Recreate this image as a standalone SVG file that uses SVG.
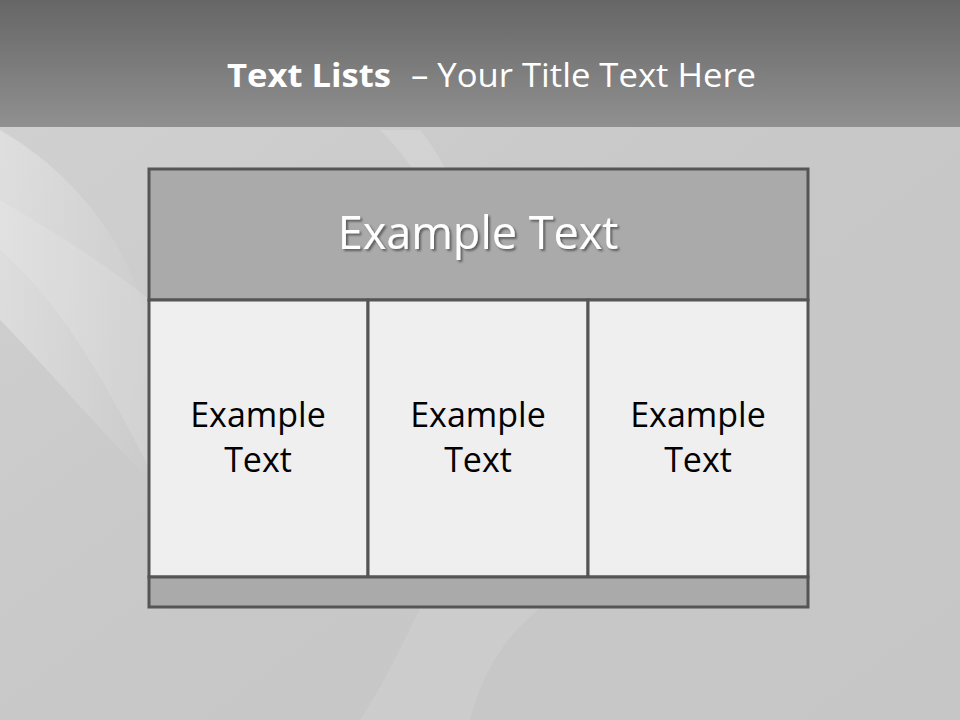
<svg xmlns="http://www.w3.org/2000/svg" width="960" height="720" viewBox="0 0 960 720">
<defs>
<linearGradient id="topband" x1="0" y1="0" x2="0" y2="1">
<stop offset="0" stop-color="#666666"/>
<stop offset="1" stop-color="#909090"/>
</linearGradient>
<linearGradient id="bg" x1="0" y1="0" x2="1" y2="1">
<stop offset="0" stop-color="#d2d2d2"/>
<stop offset="0.5" stop-color="#c8c8c8"/>
<stop offset="1" stop-color="#c6c6c6"/>
</linearGradient>
<linearGradient id="swoosh" x1="0" y1="0" x2="1" y2="0">
<stop offset="0" stop-color="#ffffff" stop-opacity="0.3"/>
<stop offset="1" stop-color="#ffffff" stop-opacity="0"/>
</linearGradient>
<filter id="shadow" x="-10%" y="-20%" width="130%" height="150%">
<feDropShadow dx="2" dy="2" stdDeviation="1.2" flood-color="#000" flood-opacity="0.45"/>
</filter>
</defs>
<style>
.cell{stroke:#555555;stroke-width:3}
.dark{fill:#aaaaaa}
.light{fill:#efefef}
.title{font-family:"Open Sans","Liberation Sans",sans-serif;font-size:32px;fill:#ffffff}
.head{font-family:"Open Sans","Liberation Sans",sans-serif;font-size:45px;fill:#ffffff}
.body{font-family:"Open Sans","Liberation Sans",sans-serif;font-size:34px;fill:#000000;text-anchor:middle}
</style>
<rect x="0" y="0" width="960" height="720" fill="url(#bg)"/>
<path d="M0 130 C120 200 180 330 150 470 L150 480 C90 420 40 360 0 320 Z" fill="url(#swoosh)"/>
<path d="M0 250 C60 300 110 390 150 470 L150 300 C100 260 50 230 0 200 Z" fill="#ffffff" fill-opacity="0.12"/>
<path d="M380 130 C430 180 450 230 440 300 L470 300 C470 230 460 180 420 130 Z" fill="#ffffff" fill-opacity="0.15"/>
<path d="M420 608 C400 650 380 690 360 720 L470 720 C480 680 500 640 540 608 Z" fill="#ffffff" fill-opacity="0.1"/>
<rect x="0" y="0" width="960" height="127" fill="url(#topband)"/>
<g id="title">
<text x="227" y="87" class="title" font-weight="bold" textLength="164" lengthAdjust="spacingAndGlyphs">Text Lists</text>
<text x="411" y="87" class="title" textLength="345" lengthAdjust="spacingAndGlyphs">– Your Title Text Here</text>
</g>
<g id="header">
<rect x="149" y="169" width="659" height="131" class="cell dark"/>
<text x="478" y="249" text-anchor="middle" class="head" filter="url(#shadow)">Example Text</text>
</g>
<g id="col1">
<rect x="149" y="300" width="219" height="277" class="cell light"/>
<text x="258" y="427" class="body">Example</text>
<text x="258" y="472" class="body">Text</text>
</g>
<g id="col2">
<rect x="368" y="300" width="220" height="277" class="cell light"/>
<text x="478" y="427" class="body">Example</text>
<text x="478" y="472" class="body">Text</text>
</g>
<g id="col3">
<rect x="588" y="300" width="220" height="277" class="cell light"/>
<text x="698" y="427" class="body">Example</text>
<text x="698" y="472" class="body">Text</text>
</g>
<g id="footer">
<rect x="149" y="577" width="659" height="30" class="cell dark"/>
</g>
</svg>
